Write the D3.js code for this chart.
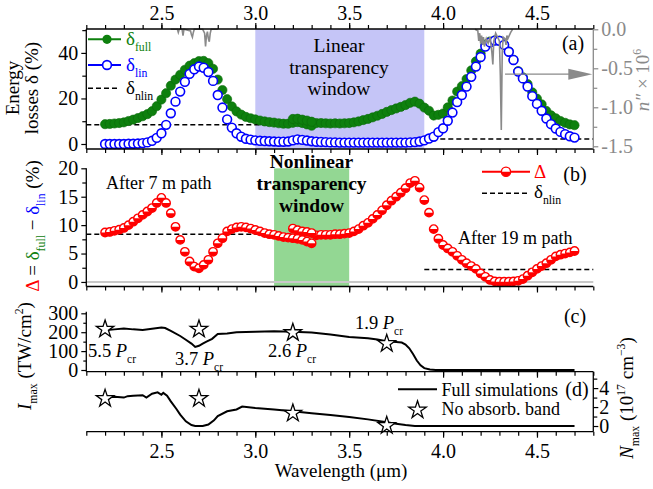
<!DOCTYPE html>
<html>
<head>
<meta charset="utf-8">
<script src="https://cdn.jsdelivr.net/npm/d3@7"></script>
<style>
  body { margin: 0; background: #fff; }
  svg { font-family: "Liberation Serif", "Times New Roman", serif; }
</style>
</head>
<body>
<script>
// grille des longueurs d'onde simulées (µm)
const lambda = d3.range(0, 101).map(i => +(2.2 + i * 0.025).toFixed(3));

// (a) pertes d'énergie (%)
const deltaFull = [8.7, 8.8, 9.0, 9.2, 9.5, 10.1, 10.7, 11.4, 12.2, 13.1,
  14.4, 16.6, 19.5, 22.3, 25.6, 28.3, 30.4, 32.6, 34.4, 35.5,
  36.4, 36.5, 35.5, 33.0, 28.3, 23.7, 19.7, 16.5, 14.3, 12.9,
  11.9, 11.3, 10.8, 10.3, 9.9, 9.6, 9.4, 9.1, 8.9, 8.9,
  9.3, 9.6, 9.2, 8.6, 8.0, 9.2, 9.2, 9.1, 9.0, 9.1,
  9.0, 9.1, 9.2, 9.5, 9.9, 10.5, 11.0, 11.7, 12.4, 13.2,
  14.1, 14.9, 15.6, 16.3, 17.1, 18.1, 18.6, 17.7, 16.0, 14.6,
  12.5, 12.8, 13.4, 16.1, 19.1, 23.0, 25.4, 28.5, 32.3, 36.3,
  39.7, 43.7, 45.0, 45.5, 45.4, 43.6, 40.6, 37.0, 32.0, 29.3,
  26.3, 22.7, 19.9, 17.4, 14.5, 12.6, 11.3, 10.1, 9.3, 8.6, 8.25];
const deltaLin = [0.0, 0.0, 0.0, 0.0, 0.0, 0.1, 0.1, 0.2, 0.4, 0.7,
  1.4, 2.7, 4.7, 8.4, 13.5, 18.6, 23.0, 27.3, 30.8, 32.8,
  34.0, 33.5, 31.6, 27.7, 21.5, 16.0, 10.8, 7.2, 4.7, 3.2,
  2.3, 1.9, 1.6, 1.4, 1.3, 1.2, 1.1, 1.0, 1.0, 1.1,
  1.6, 2.0, 1.8, 1.5, 1.2, 1.0, 0.9, 0.8, 0.7, 0.7,
  0.6, 0.6, 0.6, 0.6, 0.6, 0.6, 0.6, 0.6, 0.6, 0.6,
  0.6, 0.6, 0.6, 0.6, 0.6, 0.7, 0.8, 1.1, 1.6, 2.4,
  3.2, 5.2, 6.9, 10.2, 13.8, 18.4, 21.5, 25.2, 29.5, 34.0,
  38.2, 42.8, 44.6, 45.4, 45.3, 43.5, 40.5, 36.9, 31.8, 28.8,
  25.2, 21.0, 17.6, 14.6, 11.2, 8.7, 6.8, 5.3, 4.3, 3.4, 2.8];
// (b) différence full - lin
const deltaDiff = [8.7, 8.8, 9.0, 9.2, 9.5, 10.0, 10.6, 11.2, 11.8, 12.4,
  13.0, 13.9, 14.8, 13.9, 12.1, 9.7, 7.4, 5.3, 3.6, 2.7,
  2.4, 3.0, 3.9, 5.3, 6.8, 7.7, 8.9, 9.3, 9.6, 9.7,
  9.6, 9.4, 9.15, 8.9, 8.6, 8.4, 8.3, 8.1, 7.9, 7.8,
  7.7, 7.6, 7.4, 7.1, 6.8, 8.2, 8.3, 8.3, 8.3, 8.4,
  8.4, 8.5, 8.6, 8.9, 9.3, 9.9, 10.4, 11.1, 11.8, 12.6,
  13.5, 14.3, 15.0, 15.7, 16.5, 17.4, 17.8, 16.6, 14.4, 12.2,
  9.3, 7.6, 6.5, 5.9, 5.3, 4.6, 3.9, 3.3, 2.8, 2.3,
  1.5, 0.9, 0.35, 0.1, 0.05, 0.05, 0.05, 0.1, 0.2, 0.5,
  1.1, 1.7, 2.3, 2.8, 3.3, 3.9, 4.5, 4.8, 5.0, 5.2, 5.45];
// petite branche dédoublée vers 3.2-3.3 µm
const branchLambda = [3.2, 3.225, 3.25, 3.275, 3.3];
const branchFull = [11.0, 11.1, 10.7, 10.3, 9.8];
const branchDiff = [9.4, 9.1, 8.9, 8.8, 8.6];

// niveaux delta_nlin (tirets)
const nlinFrom = [2.1, 3.9];
const nlinTo = [3.5, 4.8];
const nlinValue = [8.4, 2.2];

// fenêtres de transparence
const linWindow = [3.0, 3.9];
const nonlinWindow = [3.1, 3.5];

// spectre d'absorption n'' x 1e6
const spec1Lambda = [2.55, 2.585, 2.59, 2.595, 2.61, 2.615, 2.62, 2.655, 2.66, 2.665, 2.67, 2.675,
  2.72, 2.73, 2.735, 2.74, 2.745, 2.75, 2.755, 2.76, 2.765, 2.8];
const spec1N = [0, 0, -0.04, 0, 0, -0.08, 0, -0.02, -0.07, -0.1, -0.04, 0,
  0, -0.05, -0.22, -0.08, -0.03, -0.12, -0.16, -0.05, 0, 0];
const spec2Lambda = [4.17, 4.185, 4.19, 4.195, 4.2, 4.205, 4.21, 4.215, 4.22, 4.23, 4.24, 4.25,
  4.255, 4.26, 4.265, 4.27, 4.28, 4.29, 4.3, 4.305, 4.31, 4.315, 4.32, 4.33, 4.335, 4.34, 4.345, 4.36, 4.37];
const spec2N = [0, -0.02, -0.15, -0.05, -0.18, -0.08, -0.2, -0.1, -0.22, -0.12, -0.18, -0.1,
  -0.2, -0.3, -0.45, -0.15, -0.05, -0.1, -0.15, -0.6, -1.29, -0.3, -0.1, -0.12, -0.2, -0.08, -0.12, -0.04, 0];

// (c) intensité max (TW/cm2)
const imaxLambda = [2.2, 2.25, 2.3, 2.35, 2.4, 2.45, 2.5, 2.52, 2.55, 2.6, 2.63, 2.66, 2.68, 2.7, 2.72,
  2.74, 2.77, 2.8, 2.85, 2.9, 3.0, 3.1, 3.2, 3.3, 3.4, 3.5, 3.6, 3.65, 3.7, 3.75, 3.78, 3.8, 3.82,
  3.84, 3.86, 3.88, 3.9, 3.93, 3.96, 4.0, 4.7];
const imax = [210, 215, 220, 215, 212, 218, 225, 222, 207, 180, 160, 140, 122, 128, 140,
  150, 165, 190, 193, 200, 203, 205, 203, 198, 188, 175, 168, 162, 152, 148, 145, 135, 115,
  85, 50, 25, 10, 3, 0, 0, 0];
// (d) densité électronique max (1e17 cm-3)
const nmaxLambda = [2.2, 2.25, 2.3, 2.32, 2.35, 2.4, 2.42, 2.45, 2.48, 2.5, 2.51, 2.53, 2.55, 2.58, 2.6,
  2.63, 2.66, 2.68, 2.72, 2.75, 2.78, 2.8, 2.85, 2.9, 2.93, 3.0, 3.1, 3.2, 3.3, 3.4, 3.5, 3.6, 3.7,
  3.75, 3.8, 3.85, 3.9, 4.7];
const nmax = [3.05, 3.1, 3.0, 3.15, 3.2, 3.25, 3.0, 3.4, 3.55, 3.3, 3.5, 3.2, 2.6, 1.8, 1.2,
  0.5, 0.1, 0.0, 0.0, 0.15, 0.6, 1.05, 1.55, 1.75, 2.05, 1.9, 1.75, 1.55, 1.35, 1.15, 0.95, 0.7, 0.4,
  0.25, 0.1, 0.0, 0.0, 0.0];

// étoiles "sans bande d'absorption"
const starLambda = [2.2, 2.7, 3.2, 3.7];
const starImax = [216, 216, 198, 140];
const starNmax = [2.9, 2.9, 1.35, 0.05];
const pcrLabels = ["5.5", "3.7", "2.6", "1.9"];

const GREEN = "#0e800e", BLUE = "#0000ff", RED = "#ff0000", GRAY = "#8a8a8a";
const FONT = "'Liberation Serif', 'Times New Roman', serif";

const svg = d3.select("body").append("svg")
  .attr("width", 653)
  .attr("height", 489);

// échelles
const x = d3.scaleLinear().domain([2.1, 4.8]).range([86.3, 593.3]);
const ya = d3.scaleLinear().domain([-2.2, 50.5]).range([149, 29]);
const yn = d3.scaleLinear().domain([-1.535, 0]).range([149, 29.3]);
const yb = d3.scaleLinear().domain([-0.8, 20]).range([286.5, 168.3]);
const yc = d3.scaleLinear().domain([-9, 308]).range([371.7, 311.8]);
const yd = d3.scaleLinear().domain([-0.6, 5.7]).range([431.7, 372]);

const majorX = [2.5, 3.0, 3.5, 4.0, 4.5];
const minorX = d3.range(21, 49).map(d => d / 10);

function styleAxis(g, size) {
  g.attr("font-family", FONT).attr("font-size", size || 20);
  g.select(".domain").remove();
  g.selectAll("line").attr("stroke-width", 1.2);
}

function xTicks(yPos, top, labels) {
  const mk = () => top ? d3.axisTop(x) : d3.axisBottom(x);
  svg.append("g").attr("transform", `translate(0,${yPos})`)
    .call(mk().tickValues(minorX).tickSize(4).tickFormat(""))
    .call(g => styleAxis(g));
  svg.append("g").attr("transform", `translate(0,${yPos})`)
    .call(mk().tickValues(majorX).tickSize(6).tickPadding(top ? 3 : 6)
      .tickFormat(labels ? d3.format(".1f") : ""))
    .call(g => styleAxis(g));
}

function hline(y, x1, x2, color, w) {
  svg.append("line").attr("x1", x1).attr("x2", x2).attr("y1", y).attr("y2", y)
    .attr("stroke", color || "#000").attr("stroke-width", w || 1.3);
}
function vline(xp, y1, y2, color, w) {
  svg.append("line").attr("x1", xp).attr("x2", xp).attr("y1", y1).attr("y2", y2)
    .attr("stroke", color || "#000").attr("stroke-width", w || 1.3);
}

// texte avec indices / exposants
function rich(sel, parts, size) {
  let off = 0;
  parts.forEach(p => {
    const target = p.sub ? 0.32 * size : p.sup ? -0.42 * size : 0;
    const ts = sel.append("tspan").attr("dy", target - off).text(p.t);
    off = target;
    if (p.sub || p.sup) ts.attr("font-size", size * 0.62);
    if (p.fill) ts.attr("fill", p.fill);
    if (p.it) ts.attr("font-style", "italic");
  });
  return sel;
}
function label(xp, yp, parts, opts) {
  opts = opts || {};
  const size = opts.size || 19;
  const t = svg.append("text")
    .attr("font-size", size)
    .attr("text-anchor", opts.anchor || "start")
    .attr("fill", opts.fill || "#000");
  if (opts.rotate) t.attr("transform", `translate(${xp},${yp}) rotate(-90)`);
  else t.attr("x", xp).attr("y", yp);
  if (opts.bold) t.attr("font-weight", "bold");
  return rich(t, parts, size);
}

const halfDisk = r => `M${-r},0A${r},${r} 0 0 0 ${r},0Z`;

// ================= (a) =================
svg.append("rect")
  .attr("x", x(linWindow[0])).attr("width", x(linWindow[1]) - x(linWindow[0]))
  .attr("y", 29).attr("height", 120)
  .attr("fill", "#c5c5f7");

nlinValue.forEach((v, i) => {
  svg.append("line")
    .attr("x1", x(nlinFrom[i])).attr("x2", x(nlinTo[i]))
    .attr("y1", ya(v)).attr("y2", ya(v))
    .attr("stroke", "#000").attr("stroke-width", 1.5).attr("stroke-dasharray", "5,3");
});

const fullPts = lambda.map((l, i) => [l, deltaFull[i]])
  .concat(branchLambda.map((l, i) => [l, branchFull[i]]));
svg.append("g").selectAll("circle").data(fullPts).join("circle")
  .attr("cx", d => x(d[0])).attr("cy", d => ya(d[1])).attr("r", 4.6)
  .attr("fill", GREEN).attr("stroke", "#0a6a0a").attr("stroke-width", 0.6);

svg.append("g").selectAll("circle").data(lambda).join("circle")
  .attr("cx", d => x(d)).attr("cy", (d, i) => ya(deltaLin[i])).attr("r", 4.4)
  .attr("fill", "#fff").attr("stroke", BLUE).attr("stroke-width", 1.6);

// spectre d'absorption
const specLine = d3.line().x(d => x(d[0])).y(d => yn(d[1]));
[[spec1Lambda, spec1N], [spec2Lambda, spec2N]].forEach(([ls, ns]) => {
  svg.append("path")
    .attr("d", specLine(ls.map((l, i) => [l, ns[i]])))
    .attr("fill", "none").attr("stroke", GRAY).attr("stroke-width", 1.6);
});

// flèche vers l'axe de droite
const arrowY = yn(-0.575);
hline(arrowY, x(4.33), x(4.8) - 24, GRAY, 1.4);
svg.append("path")
  .attr("d", `M${x(4.8) - 25},${arrowY - 5.5}L${x(4.8) - 1},${arrowY}L${x(4.8) - 25},${arrowY + 5.5}Z`)
  .attr("fill", GRAY);

// cadre (a)
hline(29, 86.3, 593.3);
hline(149, 86.3, 593.3);
vline(86.3, 29, 149);
vline(593.3, 29, 149, GRAY);
xTicks(29, true, true);
xTicks(149, false, false);
svg.append("g").attr("transform", "translate(86.3,0)")
  .call(d3.axisLeft(ya).tickValues([10, 30, 50]).tickSize(4).tickFormat(""))
  .call(g => styleAxis(g));
svg.append("g").attr("transform", "translate(86.3,0)")
  .call(d3.axisLeft(ya).tickValues([0, 20, 40]).tickSize(5).tickPadding(3))
  .call(g => styleAxis(g));
svg.append("g").attr("transform", "translate(593.3,0)")
  .call(d3.axisRight(yn).tickValues([-0.25, -0.75, -1.25]).tickSize(4).tickFormat(""))
  .call(g => { styleAxis(g); g.selectAll("line").attr("stroke", GRAY); });
svg.append("g").attr("transform", "translate(593.3,0)")
  .call(d3.axisRight(yn).tickValues([0, -0.5, -1.0, -1.5]).tickSize(5).tickPadding(3)
    .tickFormat(d => d3.format(".1f")(d).replace("−", "-")))
  .call(g => { styleAxis(g); g.selectAll("line").attr("stroke", GRAY); g.selectAll("text").attr("fill", GRAY); });

// légende (a)
hline(39.3, 88, 121, GREEN, 2);
svg.append("circle").attr("cx", 107).attr("cy", 39.3).attr("r", 4.6).attr("fill", GREEN);
label(126, 45, [{ t: "δ" }, { t: "full", sub: true }], { fill: GREEN });
hline(65, 88, 121, BLUE, 2);
svg.append("circle").attr("cx", 107).attr("cy", 65).attr("r", 4.4)
  .attr("fill", "#fff").attr("stroke", BLUE).attr("stroke-width", 1.6);
label(126, 71, [{ t: "δ" }, { t: "lin", sub: true }], { fill: BLUE });
svg.append("line").attr("x1", 88).attr("x2", 118).attr("y1", 88.3).attr("y2", 88.3)
  .attr("stroke", "#000").attr("stroke-width", 1.5).attr("stroke-dasharray", "5,3");
label(126, 94, [{ t: "δ" }, { t: "nlin", sub: true }]);

["Linear", "transparency", "window"].forEach((s, i) => {
  label(339, 52 + i * 21.5, [{ t: s }], { anchor: "middle", size: 19.5 });
});
label(573, 50, [{ t: "(a)" }], { anchor: "middle", size: 20 });

// ================= (b) =================
svg.append("rect")
  .attr("x", x(nonlinWindow[0])).attr("width", x(nonlinWindow[1]) - x(nonlinWindow[0]))
  .attr("y", yb(20)).attr("height", 286.5 - yb(20))
  .attr("fill", "#93d793");
hline(yb(0), 86.3, 593.3, "#c8c8c8", 2);
nlinValue.forEach((v, i) => {
  svg.append("line")
    .attr("x1", x(nlinFrom[i])).attr("x2", x(nlinTo[i]))
    .attr("y1", yb(v)).attr("y2", yb(v))
    .attr("stroke", "#000").attr("stroke-width", 1.5).attr("stroke-dasharray", "5,3");
});

const diffPts = lambda.map((l, i) => [l, deltaDiff[i]])
  .concat(branchLambda.map((l, i) => [l, branchDiff[i]]));
const redG = svg.append("g").selectAll("g").data(diffPts).join("g")
  .attr("transform", d => `translate(${x(d[0])},${yb(d[1])})`);
redG.append("circle").attr("r", 4.2).attr("fill", "#fff").attr("stroke", RED).attr("stroke-width", 1.4);
redG.append("path").attr("d", halfDisk(4.2)).attr("fill", RED);

hline(286.5, 86.3, 593.3);
vline(86.3, yb(20), 286.5);
xTicks(286.5, false, false);
svg.append("g").attr("transform", "translate(86.3,0)")
  .call(d3.axisLeft(yb).tickValues([2.5, 7.5, 12.5, 17.5]).tickSize(4).tickFormat(""))
  .call(g => styleAxis(g));
svg.append("g").attr("transform", "translate(86.3,0)")
  .call(d3.axisLeft(yb).tickValues([0, 5, 10, 15, 20]).tickSize(5).tickPadding(3))
  .call(g => styleAxis(g));

// légende (b)
hline(171.7, 482, 530, RED, 2);
const lgB = svg.append("g").attr("transform", "translate(506,171.7)");
lgB.append("circle").attr("r", 4.6).attr("fill", "#fff").attr("stroke", RED).attr("stroke-width", 1.4);
lgB.append("path").attr("d", halfDisk(4.6)).attr("fill", RED);
label(534, 178, [{ t: "Δ" }], { fill: RED });
svg.append("line").attr("x1", 482).attr("x2", 530).attr("y1", 193.3).attr("y2", 193.3)
  .attr("stroke", "#000").attr("stroke-width", 1.5).attr("stroke-dasharray", "5,3");
label(534, 198, [{ t: "δ" }, { t: "nlin", sub: true }]);
label(575, 181, [{ t: "(b)" }], { anchor: "middle", size: 20 });

label(106, 189, [{ t: "After 7 m path" }], { size: 18 });
label(458, 244, [{ t: "After 19 m path" }], { size: 18 });
["Nonlinear", "transparency", "window"].forEach((s, i) => {
  label(311.5, 168 + i * 22, [{ t: s }], { anchor: "middle", size: 19.5, bold: true });
});

// ================= (c) =================
const lineC = d3.line().x(d => x(d[0])).y(d => yc(d[1]));
svg.append("path")
  .attr("d", lineC(imaxLambda.map((l, i) => [l, imax[i]])))
  .attr("fill", "none").attr("stroke", "#000").attr("stroke-width", 2);

const star = d3.symbol(d3.symbolStar, 95);
svg.append("g").selectAll("path").data(starLambda).join("path")
  .attr("d", star)
  .attr("transform", (d, i) => `translate(${x(d)},${yc(starImax[i])})`)
  .attr("fill", "#fff").attr("stroke", "#000").attr("stroke-width", 1.3);

const pcrPos = [[88, 357], [175, 365], [268, 357], [355, 329]];
pcrLabels.forEach((s, i) => {
  label(pcrPos[i][0], pcrPos[i][1], [{ t: s + " " }, { t: "P", it: true }, { t: "cr", sub: true }], { size: 18.5 });
});

vline(86.3, 311.8, 371.7);
hline(371.7, 86.3, 593.3);
xTicks(371.7, false, false);
svg.append("g").attr("transform", "translate(86.3,0)")
  .call(d3.axisLeft(yc).tickValues([50, 150, 250]).tickSize(3).tickFormat(""))
  .call(g => styleAxis(g));
svg.append("g").attr("transform", "translate(86.3,0)")
  .call(d3.axisLeft(yc).tickValues([0, 100, 200, 300]).tickSize(5).tickPadding(3))
  .call(g => styleAxis(g));
label(575, 323, [{ t: "(c)" }], { anchor: "middle", size: 20 });

// ================= (d) =================
const lineD = d3.line().x(d => x(d[0])).y(d => yd(d[1]));
svg.append("path")
  .attr("d", lineD(nmaxLambda.map((l, i) => [l, nmax[i]])))
  .attr("fill", "none").attr("stroke", "#000").attr("stroke-width", 2);
svg.append("g").selectAll("path").data(starLambda).join("path")
  .attr("d", star)
  .attr("transform", (d, i) => `translate(${x(d)},${yd(starNmax[i])})`)
  .attr("fill", "#fff").attr("stroke", "#000").attr("stroke-width", 1.3);

hline(431.7, 86.3, 593.3);
vline(593.3, 371.7, 431.7);
xTicks(431.7, false, true);
svg.append("g").attr("transform", "translate(593.3,0)")
  .call(d3.axisRight(yd).tickValues([1, 3, 5]).tickSize(4).tickFormat(""))
  .call(g => styleAxis(g));
svg.append("g").attr("transform", "translate(593.3,0)")
  .call(d3.axisRight(yd).tickValues([0, 2, 4]).tickSize(5).tickPadding(1).tickFormat(d3.format("d")))
  .call(g => styleAxis(g));

// légende (d)
hline(389.3, 398, 437, "#000", 2);
label(441.5, 395.5, [{ t: "Full simulations" }], { size: 18 });
svg.append("path").attr("d", star).attr("transform", "translate(417.5,410)")
  .attr("fill", "#fff").attr("stroke", "#000").attr("stroke-width", 1.3);
label(441.5, 415, [{ t: "No absorb. band" }], { size: 18 });
label(577, 395.5, [{ t: "(d)" }], { anchor: "middle", size: 20 });

// ================= titres d'axes =================
label(341, 477, [{ t: "Wavelength (μm)" }], { anchor: "middle" });
label(19, 88, [{ t: "Energy" }], { rotate: true, anchor: "middle" });
label(38, 88, [{ t: "losses δ (%)" }], { rotate: true, anchor: "middle" });
label(39, 226, [
  { t: "Δ", fill: RED }, { t: " = " }, { t: "δ", fill: GREEN }, { t: "full", sub: true, fill: GREEN },
  { t: " − " }, { t: "δ", fill: BLUE }, { t: "lin", sub: true, fill: BLUE }, { t: " (%)" }
], { rotate: true, anchor: "middle" });
label(31, 356, [
  { t: "I", it: true }, { t: "max", sub: true }, { t: " (TW/cm" }, { t: "2", sup: true }, { t: ")" }
], { rotate: true, anchor: "middle" });
label(649, 80, [
  { t: "n″", it: true }, { t: " × 10" }, { t: "6", sup: true }
], { rotate: true, anchor: "middle", fill: GRAY });
label(633, 398, [
  { t: "N", it: true }, { t: "max", sub: true }, { t: " (10" }, { t: "17", sup: true },
  { t: " cm" }, { t: "−3", sup: true }, { t: ")" }
], { rotate: true, anchor: "middle" });
</script>
</body>
</html>
